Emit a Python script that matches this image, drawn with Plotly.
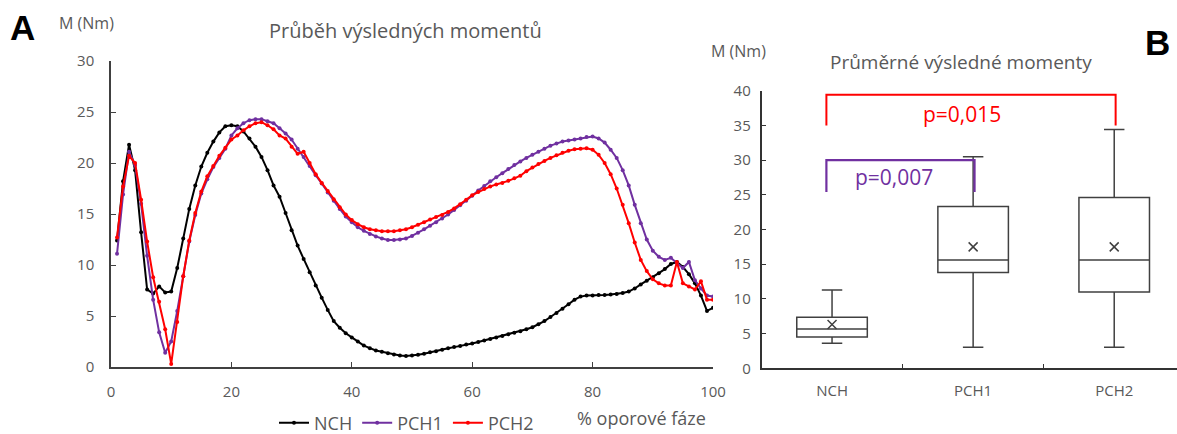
import plotly.graph_objects as go

# ---------------- data: panel A ----------------
x_pct = list(range(1, 101))

nch = [12.4, 18.2, 21.8, 19.3, 13.2, 7.6, 7.2, 7.9, 7.3, 7.4,
       9.7, 12.6, 15.5, 17.8, 19.65, 21.0, 22.1, 23.0, 23.6, 23.7,
       23.6, 23.1, 22.4, 21.6, 20.6, 19.3, 17.8, 16.7, 15.1, 13.4,
       11.9, 10.6, 9.3, 8.0, 6.8, 5.6, 4.5, 3.85, 3.3, 2.9,
       2.5, 2.1, 1.85, 1.62, 1.5, 1.36, 1.22, 1.12, 1.08, 1.12,
       1.2, 1.3, 1.45, 1.55, 1.7, 1.83, 1.95, 2.05, 2.2, 2.3,
       2.45, 2.6, 2.75, 2.9, 3.05, 3.2, 3.35, 3.5, 3.7, 3.9,
       4.2, 4.5, 4.9, 5.3, 5.7, 6.15, 6.6, 6.9, 7.0, 7.0,
       7.05, 7.05, 7.1, 7.15, 7.25, 7.4, 7.7, 8.1, 8.45, 8.8,
       9.2, 9.6, 10.1, 10.3, 9.8, 9.1, 8.2, 7.0, 5.5, 5.8]

pch1 = [11.1, 16.9, 21.1, 19.8, 16.0, 10.9, 6.6, 3.4, 1.4, 2.5,
        5.5, 8.9, 12.3, 14.9, 17.0, 18.4, 19.6, 20.5, 21.4, 22.7,
        23.4, 23.9, 24.2, 24.3, 24.3, 24.1, 23.9, 23.4, 22.9, 22.3,
        21.4, 20.6, 19.7, 18.8, 18.0, 17.1, 16.3, 15.5, 14.75, 14.2,
        13.7, 13.35, 13.05, 12.8, 12.6, 12.45, 12.45, 12.5, 12.6, 12.85,
        13.15, 13.5, 13.85, 14.2, 14.55, 14.95, 15.4, 15.85, 16.3, 16.8,
        17.3, 17.75, 18.2, 18.6, 19.0, 19.4, 19.8, 20.15, 20.5, 20.8,
        21.1, 21.4, 21.7, 21.9, 22.1, 22.2, 22.3, 22.4, 22.55, 22.6,
        22.4, 22.0, 21.3, 20.5, 19.3, 17.8, 15.9, 14.1, 12.5, 11.4,
        10.8, 10.5, 10.7, 10.2, 9.7, 10.3, 8.5, 7.7, 7.0, 6.9]

pch2 = [12.7, 17.7, 20.7, 20.0, 16.4, 12.3, 8.8, 6.4, 3.7, 0.3,
        4.4, 8.9, 12.4, 15.1, 17.2, 18.7, 19.7, 20.7, 21.5, 22.3,
        22.7, 23.2, 23.6, 23.9, 24.0, 23.7, 23.3, 22.7, 22.4, 21.6,
        20.9, 21.1, 20.0, 18.9, 18.05, 17.25, 16.45, 15.65, 14.95, 14.4,
        14.0, 13.7, 13.5, 13.4, 13.3, 13.3, 13.3, 13.4, 13.5, 13.7,
        13.95, 14.2, 14.45, 14.7, 14.9, 15.2, 15.55, 15.95, 16.4, 16.85,
        17.15, 17.45, 17.7, 17.9, 18.05, 18.25, 18.5, 18.75, 19.2, 19.55,
        19.9, 20.2, 20.5, 20.75, 21.0, 21.2, 21.35, 21.4, 21.45, 21.3,
        20.8, 20.0, 18.9, 17.5, 15.9, 14.1, 12.2, 10.5, 9.4, 8.6,
        8.2, 8.0, 8.0, 10.3, 8.2, 7.9, 7.6, 8.4, 6.6, 6.6]

# ---------------- data: panel B ----------------
groups = ["NCH", "PCH1", "PCH2"]
q1 = [4.5, 13.8, 11.0]
median = [5.65, 15.6, 15.6]
q3 = [7.35, 23.3, 24.6]
lower = [3.6, 3.05, 3.05]
upper = [11.3, 30.5, 34.4]
means = [6.3, 17.5, 17.5]

series_names = ["NCH", "PCH1", "PCH2"]
series_colors = ["#000000", "#7030A0", "#FF0000"]

GREY = "#595959"
FONT = "Open Sans"

fig = go.Figure()

for name, ys, col in zip(series_names, [nch, pch1, pch2], series_colors):
    fig.add_trace(go.Scatter(
        x=x_pct, y=ys, mode="lines+markers", name=name,
        line=dict(color=col, width=2),
        marker=dict(color=col, size=4),
        xaxis="x", yaxis="y"))

for i, g in enumerate(groups):
    fig.add_trace(go.Box(
        x=[g], q1=[q1[i]], median=[median[i]], q3=[q3[i]],
        lowerfence=[lower[i]], upperfence=[upper[i]],
        width=0.5, whiskerwidth=0.29,
        fillcolor="white", line=dict(color="#404040", width=1.5),
        boxpoints=False, showlegend=False, hoverinfo="skip",
        xaxis="x2", yaxis="y2"))

fig.add_trace(go.Scatter(
    x=groups, y=means, mode="markers", showlegend=False,
    marker=dict(symbol="x-thin", size=9, line=dict(color="#404040", width=1.5)),
    xaxis="x2", yaxis="y2"))

W, H = 1177, 434

def px_x(p):
    return p / W

def px_y(p):
    return 1 - p / H

fig.update_layout(
    template="none",
    width=W, height=H,
    margin=dict(l=0, r=0, t=0, b=0, pad=0, autoexpand=False),
    paper_bgcolor="white", plot_bgcolor="white",
    font=dict(family=FONT, color=GREY, size=14),
    showlegend=True,
    legend=dict(orientation="h", x=px_x(274), y=px_y(423), xanchor="left", yanchor="middle",
                font=dict(size=18, color=GREY, family=FONT), itemwidth=30,
                tracegroupgap=0, bgcolor="rgba(0,0,0,0)", borderwidth=0),
    xaxis=dict(domain=[px_x(111), px_x(713)], range=[0, 100], tickvals=[0, 20, 40, 60, 80, 100],
               showline=True, linecolor="#404040", linewidth=1.5, ticks="inside", ticklen=5,
               tickcolor="#404040", showgrid=False, zeroline=False, anchor="y", automargin=False,
               tickfont=dict(size=15, color=GREY), ticklabelstandoff=10),
    yaxis=dict(domain=[px_y(367), px_y(61)], range=[0, 30], tickvals=[0, 5, 10, 15, 20, 25, 30],
               showline=True, linecolor="#404040", linewidth=1.5, ticks="inside", ticklen=5,
               tickcolor="#404040", showgrid=False, zeroline=False, anchor="x", automargin=False,
               tickfont=dict(size=15, color=GREY), ticklabelstandoff=12),
    xaxis2=dict(domain=[px_x(761.5), 1.0], type="category", categoryorder="array", categoryarray=groups,
                range=[-0.5, 2.445], tickson="boundaries", ticks="inside", ticklen=5,
                tickcolor="#333333", showline=True, linecolor="#333333", linewidth=1.5,
                showgrid=False, zeroline=False, anchor="y2", automargin=False,
                tickfont=dict(size=15, color=GREY), ticklabelstandoff=8),
    yaxis2=dict(domain=[px_y(368.3), px_y(90.7)], range=[0, 40], tickvals=list(range(0, 45, 5)),
                showline=True, linecolor="#333333", linewidth=1.5, ticks="inside", ticklen=5,
                tickcolor="#333333", showgrid=False, zeroline=False, anchor="x2", automargin=False,
                tickfont=dict(size=15, color=GREY), ticklabelstandoff=6),
)

# significance brackets
fig.add_shape(type="path", xref="x2", yref="y2",
              path="M -0.04 35 L -0.04 39.4 L 2.01 39.4 L 2.01 35",
              line=dict(color="#FF0000", width=2))
fig.add_shape(type="path", xref="x2", yref="y2",
              path="M -0.04 25.4 L -0.04 30.0 L 1.01 30.0 L 1.01 25.4",
              line=dict(color="#7030A0", width=2.2))

ann = [
    dict(text="p=0,015", x=0.92, y=36.6, xref="x2", yref="y2",
         font=dict(size=21, color="#FF0000")),
    dict(text="p=0,007", x=0.44, y=27.6, xref="x2", yref="y2",
         font=dict(size=21, color="#7030A0")),
    dict(text="Průběh výsledných momentů", x=px_x(405), y=px_y(30), xref="paper", yref="paper",
         font=dict(size=20, color=GREY)),
    dict(text="Průměrné výsledné momenty", x=px_x(961), y=px_y(62), xref="paper", yref="paper",
         font=dict(size=19, color=GREY)),
    dict(text="M (Nm)", x=px_x(86), y=px_y(23), xref="paper", yref="paper",
         font=dict(size=16, color=GREY)),
    dict(text="M (Nm)", x=px_x(738), y=px_y(51), xref="paper", yref="paper",
         font=dict(size=16, color=GREY)),
    dict(text="% oporové fáze", x=px_x(641), y=px_y(418), xref="paper", yref="paper",
         font=dict(size=18, color=GREY)),
    dict(text="<b>A</b>", x=px_x(22), y=px_y(28), xref="paper", yref="paper",
         font=dict(size=35, color="#000000", family="Liberation Sans")),
    dict(text="<b>B</b>", x=px_x(1157), y=px_y(42), xref="paper", yref="paper",
         font=dict(size=35, color="#000000", family="Liberation Sans")),
]
for a in ann:
    a.update(showarrow=False, xanchor="center", yanchor="middle")
    fig.add_annotation(**a)

fig.write_html("out.html")
